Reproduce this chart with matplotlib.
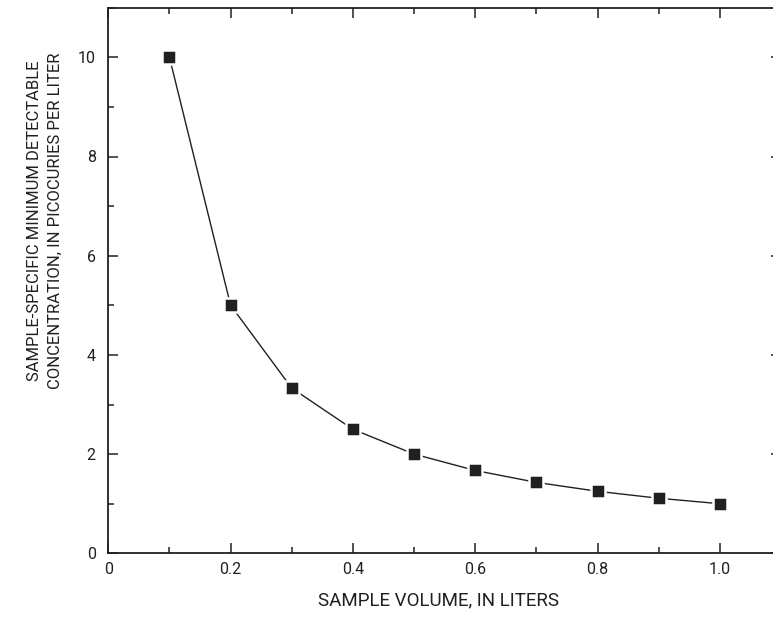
import matplotlib
matplotlib.use("Agg")
import matplotlib.pyplot as plt
from matplotlib import font_manager as fm
from matplotlib.ticker import MultipleLocator, FixedLocator

names = {f.name for f in fm.fontManager.ttflist}
fam = ['Liberation Sans Narrow'] if 'Liberation Sans Narrow' in names else ['Roboto']
plt.rcParams['font.family'] = fam + ['DejaVu Sans']

volume = [0.1, 0.2, 0.3, 0.4, 0.5, 0.6, 0.7, 0.8, 0.9, 1.0]
mdc = [10.0, 5.0, 3.33, 2.5, 2.0, 1.67, 1.43, 1.25, 1.11, 1.0]
xticks = [0, 0.2, 0.4, 0.6, 0.8, 1.0]
xticklabels = ['0', '0.2', '0.4', '0.6', '0.8', '1.0']
yticks = [0, 2, 4, 6, 8, 10]
yticklabels = ['0', '2', '4', '6', '8', '10']

W, H = 773, 622
fig = plt.figure(figsize=(W / 100, H / 100), dpi=100)
left, right, bottom, top = 108.3, 781, 553.3, 7.7
ax = fig.add_axes([left / W, (H - bottom) / H, (right - left) / W, (bottom - top) / H])

dark = '#231f20'
ax.plot(volume, mdc, color=dark, lw=1.0, zorder=2)
ax.plot(volume, mdc, ls='none', marker='s', ms=10.4, mfc=dark, mec='white', mew=1.8, zorder=3)

ax.set_xlim(0, 1.1)
ax.set_ylim(0, 11)
ax.xaxis.set_major_locator(FixedLocator(xticks))
ax.set_xticklabels(xticklabels)
ax.xaxis.set_minor_locator(MultipleLocator(0.1))
ax.yaxis.set_major_locator(FixedLocator(yticks))
ax.set_yticklabels(yticklabels)
ax.yaxis.set_minor_locator(MultipleLocator(1))

ax.tick_params(which='both', direction='in', top=True, right=True, width=1.1, color=dark)
ax.tick_params(which='major', length=7.5, labelsize=11.5, labelcolor=dark)
ax.tick_params(which='minor', length=4)
ax.tick_params(axis='x', which='major', pad=6)
ax.tick_params(axis='y', which='major', pad=9)
for s in ax.spines.values():
    s.set_linewidth(1.3)
    s.set_color(dark)

ax.set_xlabel('SAMPLE VOLUME, IN LITERS', fontsize=13.5, color=dark, va='center')
ax.xaxis.set_label_coords((439 - left) / (right - left), (bottom - 600) / (bottom - top))
fig.text(45 / W, (H - 221) / H,
         'SAMPLE-SPECIFIC MINIMUM DETECTABLE\nCONCENTRATION, IN PICOCURIES PER LITER',
         rotation=90, ha='center', va='center', multialignment='center',
         fontsize=12, color=dark, linespacing=1.45)

fig.savefig('out.png', dpi=100)
